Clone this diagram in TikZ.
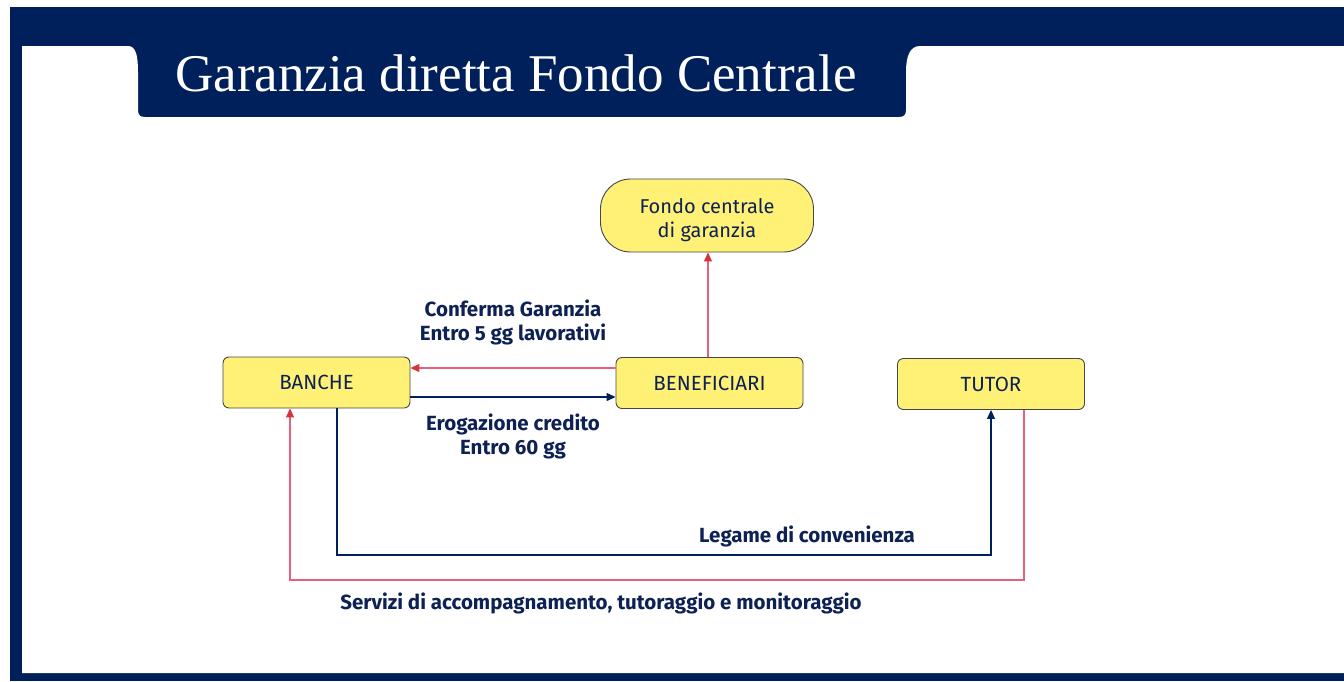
\documentclass[tikz,border=0pt]{standalone}
\usepackage{fontspec}
\setmainfont{Fira Sans}
\newfontfamily\titlefont{Liberation Serif}
\usetikzlibrary{arrows.meta}
\definecolor{navy}{RGB}{0,32,91}
\definecolor{txtnavy}{RGB}{14,33,84}
\definecolor{boxyellow}{RGB}{255,241,118}
\definecolor{boxborder}{RGB}{70,70,70}
\definecolor{redline}{RGB}{232,96,122}
\definecolor{redtip}{RGB}{216,50,60}
\tikzset{
  box/.style={draw=boxborder, line width=0.9pt, fill=boxyellow, rounded corners=6pt,
    minimum width=187pt, minimum height=51pt, inner sep=0pt, font=\fontsize{20.5}{24}\selectfont, text=txtnavy},
  roundbox/.style={draw=boxborder, line width=0.9pt, fill=boxyellow, rounded corners=30pt,
    minimum width=213pt, minimum height=73pt, inner sep=0pt, align=center,
    font=\fontsize{20}{24}\selectfont, text=txtnavy},
  lbl/.style={text=txtnavy, font=\bfseries\fontsize{20.5}{24}\selectfont, align=center, inner sep=0pt},
  redarrow/.style={draw=redline, line width=1.2pt, -{Triangle[length=9pt,width=8pt,color=redtip]}},
  bluearrow/.style={draw=navy, line width=1.2pt, -{Triangle[length=9pt,width=8pt,color=navy]}}
}
\begin{document}
\begin{tikzpicture}[x=1pt,y=-1pt]
\useasboundingbox (0,0) rectangle (1344,681);
\fill[white] (0,0) rectangle (1344,681);
\fill[navy] (10,7) rectangle (1344,681);
\fill[white] (22,673) -- (22,46) -- (128,46)
  .. controls (136,46) and (138,56) .. (138,72) -- (138,110)
  .. controls (138,115) and (140,117) .. (145,117) -- (899,117)
  .. controls (904,117) and (906,115) .. (906,110) -- (906,72)
  .. controls (906,56) and (910,46) .. (920,46) -- (1344,46) -- (1344,673) -- cycle;
\node[text=white, font=\titlefont\fontsize{53}{56}\selectfont, anchor=west, inner sep=0pt] (title) at (175,73) {Garanzia diretta Fondo Centrale};

\node[roundbox] (fondo) at (707,215.5) {\rule{0pt}{25pt}Fondo centrale\\di garanzia};
\node[box] (banche) at (316.5,382.5) {BANCHE};
\node[box] (benef) at (709.5,383) {BENEFICIARI};
\node[box] (tutor) at (991,384) {TUTOR};

\draw[redarrow] (benef.west |- 0,368) -- (banche.east |- 0,368);
\draw[bluearrow] (banche.east |- 0,397) -- (benef.west |- 0,397);
\draw[redarrow] (benef.north -| 708,0) -- (fondo.south -| 708,0);
\coordinate (b1) at (337,555);
\coordinate (b2) at (991,555);
\draw[bluearrow] (banche.south -| 337,0) -- (b1) -- (b2) -- (tutor.south);
\coordinate (r1) at (1024,580);
\coordinate (r2) at (290,580);
\draw[redarrow] (tutor.south -| 1024,0) -- (r1) -- (r2) -- (banche.south -| 290,0);

\node[lbl] (l1) at (513,322) {Conferma Garanzia\\Entro 5 gg lavorativi};
\node[lbl] (l2) at (513,436) {Erogazione credito\\Entro 60 gg};
\node[lbl] (l3) at (807,536) {Legame di convenienza};
\node[lbl] (l4) at (601,603) {Servizi di accompagnamento, tutoraggio e monitoraggio};
\end{tikzpicture}
\end{document}
